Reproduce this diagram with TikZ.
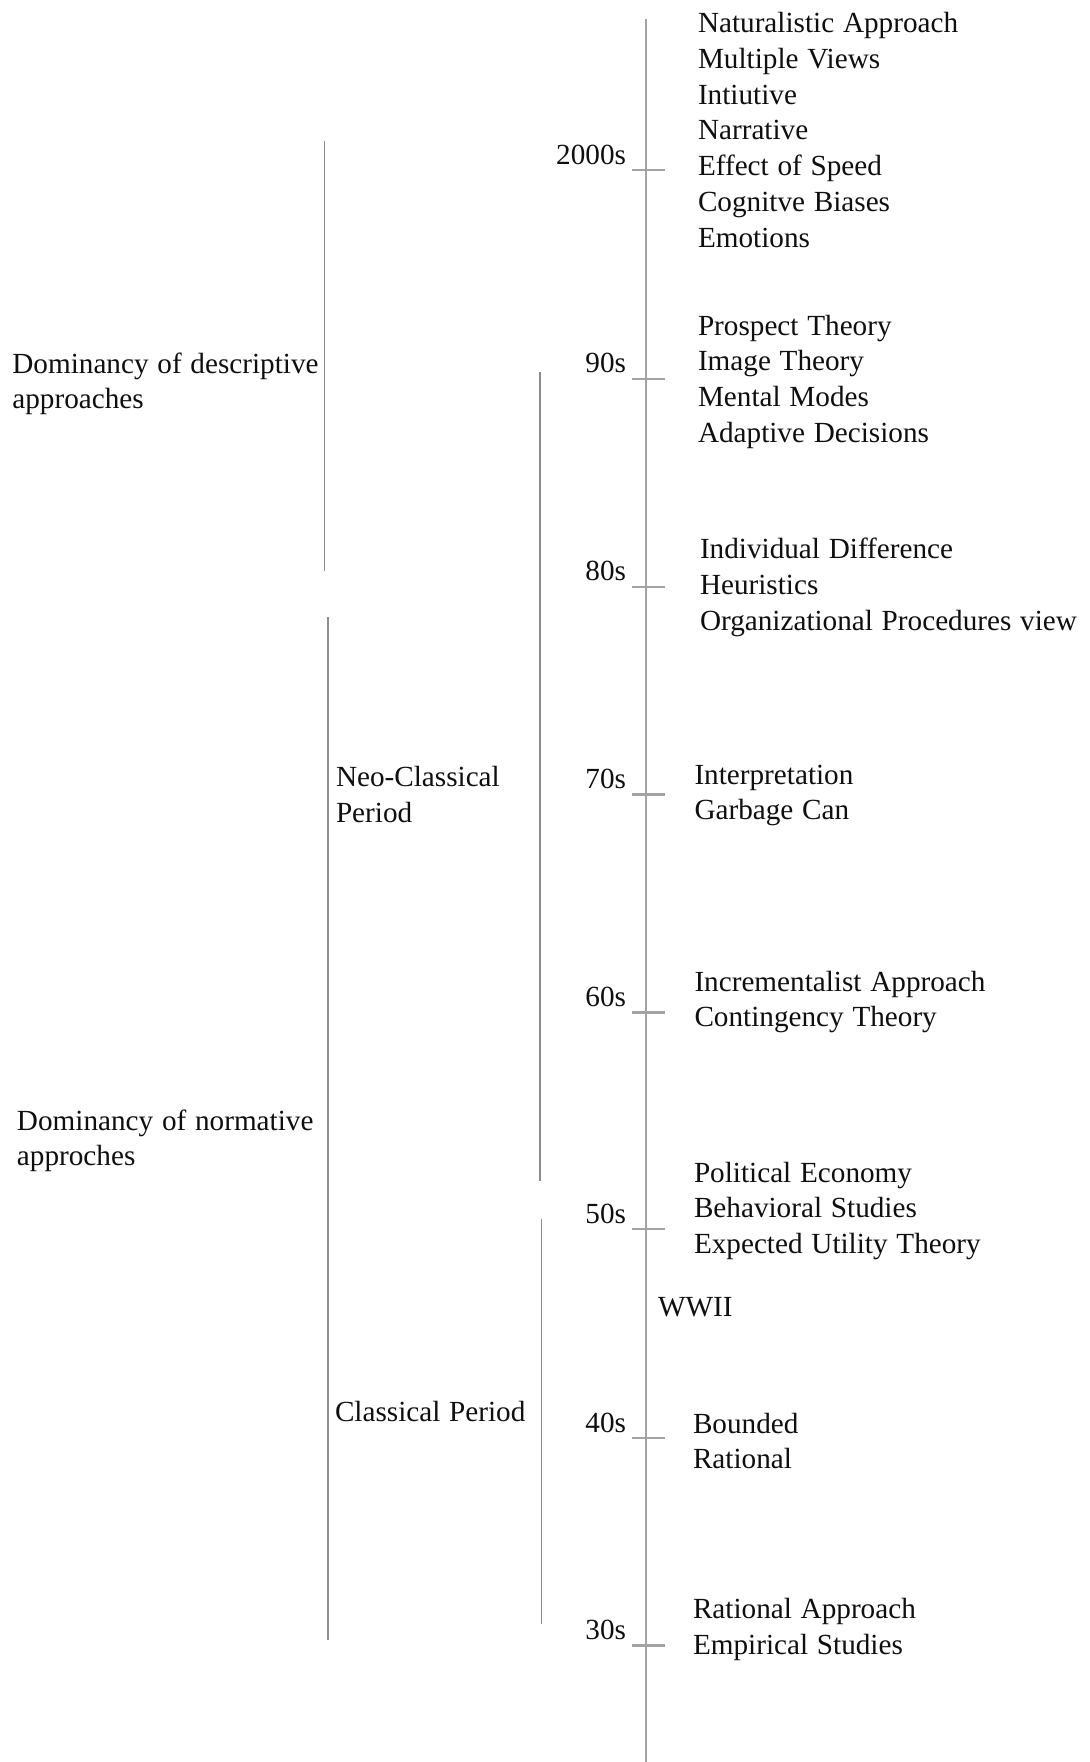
\documentclass[tikz,border=0pt]{standalone}
\usepackage{fontspec}
\setmainfont{Liberation Serif}
% label font with slightly wider word spaces
\newcommand\lblfont{\fontsize{14.6}{17.9}\selectfont\spaceskip=0.3em\relax}
\begin{document}
\begin{tikzpicture}[x=0.5pt,y=-0.5pt,
  lbl/.style={inner sep=0pt,outer sep=0pt,anchor=base west,
    font={\lblfont},text=black!94},
  yearlbl/.style={lbl,anchor=base east},
  axisline/.style={draw=black!36,line width=1.35pt},
  tickline/.style={draw=black!36,line width=1.1pt},
  spanline/.style={draw=black!45,line width=0.65pt}]
\useasboundingbox[fill=white] (0,0) rectangle (1090,1762);

% main time axis
\draw[axisline] (646,19) -- (646,1762);

% decade ticks and labels
\foreach \y/\yr [count=\k] in {170/2000s,378.7/90s,586.6/80s,794.5/70s,
    1012.5/60s,1229.3/50s,1438.3/40s,1645.5/30s}{
  \draw[tickline] (632,\y) -- (665,\y);
  \node[yearlbl] (yr\k) at (626,\y-6) {\yr};
}

% period brackets
\draw[spanline] (324.5,141) -- (324.5,571);
\draw[spanline] (328,617) -- (328,1640);
\draw[spanline] (540,372) -- (540,1181);
\draw[spanline] (541.5,1219) -- (541.5,1624);

% period labels
\node[lbl] (desc1) at (12.4,373) {Dominancy of descriptive};
\node[lbl] (desc2) at (12.4,408.5) {approaches};
\node[lbl] (norm1) at (17,1130) {Dominancy of normative};
\node[lbl] (norm2) at (17,1165.5) {approches};
\node[lbl] (neo1) at (336,786.5) {Neo-Classical};
\node[lbl] (neo2) at (336,822) {Period};
\node[lbl] (clas) at (335,1421) {Classical Period};

% approaches per decade
\foreach \t [count=\i from 0] in {Naturalistic Approach,Multiple Views,Intiutive,
    Narrative,Effect of Speed,Cognitve Biases,Emotions}
  \node[lbl] (a2000-\i) at (698,32.5+35.8*\i) {\t};
\foreach \t [count=\i from 0] in {Prospect Theory,Image Theory,Mental Modes,
    Adaptive Decisions}
  \node[lbl] (a90-\i) at (698,335+35.8*\i) {\t};
\foreach \t [count=\i from 0] in {Individual Difference,Heuristics,
    Organizational Procedures view}
  \node[lbl] (a80-\i) at (700,558.5+35.8*\i) {\t};
\foreach \t [count=\i from 0] in {Interpretation,Garbage Can}
  \node[lbl] (a70-\i) at (694.5,784+35.8*\i) {\t};
\foreach \t [count=\i from 0] in {Incrementalist Approach,Contingency Theory}
  \node[lbl] (a60-\i) at (694.5,991+35.8*\i) {\t};
\foreach \t [count=\i from 0] in {Political Economy,Behavioral Studies,
    Expected Utility Theory}
  \node[lbl] (a50-\i) at (694,1182.3+35.6*\i) {\t};
\node[lbl] (wwii) at (658,1316.7) {WWII};
\foreach \t [count=\i from 0] in {Bounded,Rational}
  \node[lbl] (a40-\i) at (693,1433.3+35.3*\i) {\t};
\foreach \t [count=\i from 0] in {Rational Approach,Empirical Studies}
  \node[lbl] (a30-\i) at (693,1618.3+36*\i) {\t};
\end{tikzpicture}
\end{document}
